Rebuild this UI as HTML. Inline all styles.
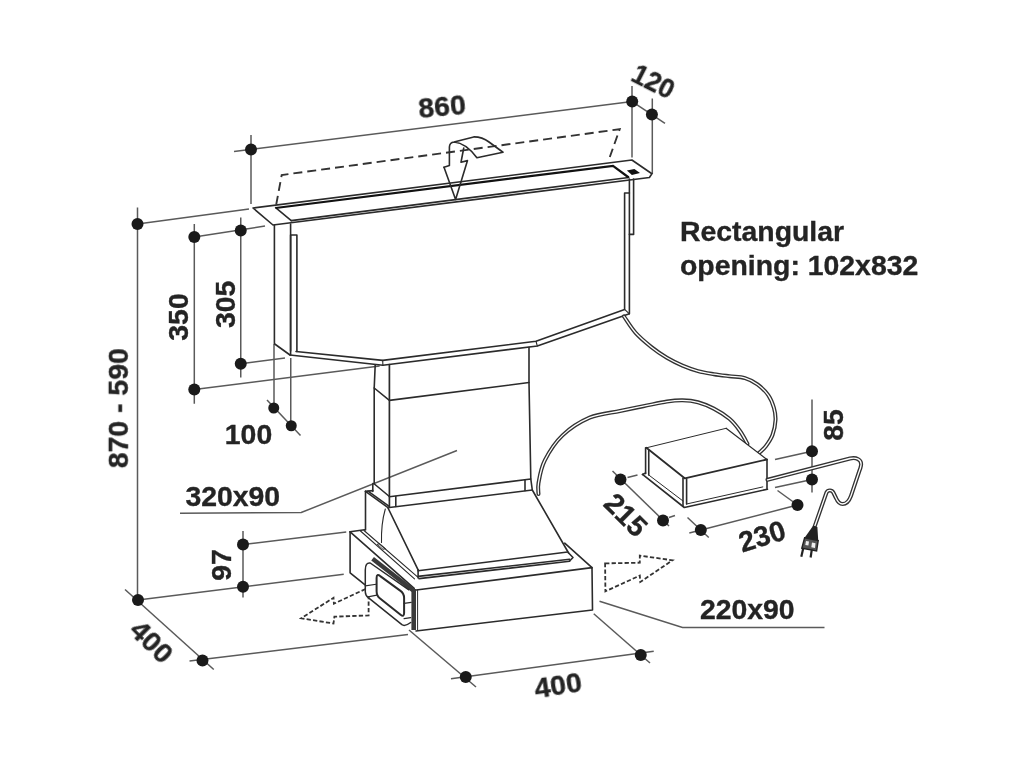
<!DOCTYPE html>
<html><head><meta charset="utf-8">
<style>
html,body{margin:0;padding:0;background:#fff;}
svg{display:block;}
text{font-family:"Liberation Sans",sans-serif;font-weight:bold;font-size:28.4px;fill:#222;stroke:#222;stroke-width:0.35;}
.d{stroke:#5a5a5a;stroke-width:1.5;fill:none;}
.m{stroke:#2b2b2b;stroke-width:1.6;fill:none;stroke-linejoin:round;stroke-linecap:round;}
.k{stroke:#111;stroke-width:2.2;fill:none;}
.dash{stroke:#333;stroke-width:1.9;fill:none;stroke-dasharray:9 5;}
.dash2{stroke:#333;stroke-width:1.8;fill:none;stroke-dasharray:4.3 2.2;stroke-linejoin:miter;}
.dot{fill:#1a1a1a;stroke:none;}
.co{stroke:#333;stroke-width:4;fill:none;stroke-linecap:round;stroke-linejoin:round;}
.ci{stroke:#fff;stroke-width:1.3;fill:none;stroke-linecap:round;stroke-linejoin:round;}
</style></head>
<body>
<svg width="1024" height="768" viewBox="0 0 1024 768">
<rect width="1024" height="768" fill="#fff"/>
<g>

<!-- DIMENSION LINES -->
<g class="d">
<!-- 860 -->
<path d="M234,151.6 L632.2,101.6"/>
<path d="M251,135 V204"/>
<path d="M632,86 V157.5"/>
<path d="M652.3,98.5 V174"/>
<path d="M632.2,101.6 L665,123.4"/>
<!-- 870-590 -->
<path d="M137.5,207.5 V600"/>
<path d="M137.5,224 L249,209"/>
<!-- 350 -->
<path d="M194.3,224 V403.75"/>
<path d="M194.3,237 L265,226"/>
<path d="M194.3,389.5 L379.6,366"/>
<!-- 305 -->
<path d="M240.75,217.5 V377.5"/>
<path d="M240.75,363.75 L285,358"/>
<!-- 100 -->
<path d="M274,344 V408"/>
<path d="M290.75,358 V425.75"/>
<path d="M267,400 L300.5,435.5"/>
<!-- 97 -->
<path d="M243,531 V597.5"/>
<path d="M243,544.5 L346.25,532"/>
<path d="M138,600 L343.75,574.25"/>
<!-- 400 left -->
<path d="M125,589.5 L213.75,669.5"/>
<path d="M189.5,661 L408,634.4"/>
<!-- 400 bottom -->
<path d="M451,678.8 L653.75,651.3"/>
<path d="M409,630 L476,687"/>
<path d="M593.75,613.75 L650,663"/>
<!-- leaders -->
<path d="M599.5,601.25 L682.5,627.5 H824.5"/>
<path d="M180,513.25 L301.25,512.5 L457,450.5"/>
<!-- 215 -->
<path d="M612.5,471 L669,526"/>
<path d="M627.5,477.5 L637.5,475"/>
<path d="M669,517.5 L675,515.5"/>
<!-- 230 -->
<path d="M689.3,533 L797.5,505"/>
<path d="M687.5,517.5 L708.75,537.5"/>
<path d="M777.5,490.5 L797.5,505"/>
<!-- 85 -->
<path d="M812,399.5 V492.5"/>
<path d="M775,459.5 L812,451.25"/>
<path d="M775,487.5 L812,479.5"/>
</g>

<!-- DOTS -->
<g class="dot">
<circle cx="251" cy="149.5" r="6"/><circle cx="632.2" cy="101.6" r="6"/><circle cx="651.9" cy="114.4" r="6"/>
<circle cx="137.5" cy="224" r="6"/><circle cx="138" cy="600" r="6"/>
<circle cx="194.3" cy="237" r="6"/><circle cx="194.3" cy="389.5" r="6"/>
<circle cx="240.75" cy="230.5" r="6"/><circle cx="240.75" cy="363.75" r="6"/>
<circle cx="273.75" cy="408" r="5.5"/><circle cx="291.25" cy="425.75" r="5.5"/>
<circle cx="243" cy="544.5" r="6"/><circle cx="243" cy="586.75" r="6"/>
<circle cx="202.5" cy="660.5" r="6"/>
<circle cx="465.75" cy="676.9" r="6"/><circle cx="640.75" cy="654.9" r="6"/>
<circle cx="620.5" cy="479.5" r="6"/><circle cx="663" cy="520.5" r="6"/>
<circle cx="700.8" cy="530" r="6"/><circle cx="797.5" cy="505" r="6"/>
<circle cx="812" cy="451.25" r="6"/><circle cx="812" cy="479.5" r="6"/>
</g>

<!-- DASHED OUTLINE -->
<path class="dash" d="M276.2,204.7 L281.7,175 L619.7,129.2 L609.8,157"/>

<!-- TOP PLATE -->
<g class="m">
<path d="M253,208 L631.9,160 L651.9,173.75 L649.4,177.5 L273,225 Z"/>
<path d="M291.25,220.6 L628.75,177.5"/>
<path d="M275.6,207.7 L291.25,220.6"/>
</g>
<path class="k" d="M275.6,208 L613,165.8 L628.75,177.5"/>
<path d="M626.9,170.6 L634.4,169 L640,173.1 L631.9,175 Z" fill="#111"/>

<!-- ARROW top -->
<g class="m">
<path d="M444,167.25 L449.4,165.6 V147 Q449.6,142.5 454,142 L473.75,136.9 Q482,136.8 489,142 L503,152.25 L476.9,157.75 Q466,143 454,142"/>
<path d="M463.75,148 L461,162.25 L467.5,160.6 L455.6,199.4 L444,167.25"/>
</g>

<!-- BODY -->
<g class="m">
<path d="M274.4,225 V343.75 L290,355"/>
<path d="M290.6,224 V355"/>
<path d="M290.6,351 V235 H296.9 V351.5"/>
<path d="M296,351.5 L382.7,360.4 L536,341.25 L624.6,309.4 V193 H629.4"/>
<path d="M290,355 L382.9,365.3 L537.3,346 L629.4,313.8 V179"/>
<path d="M382.7,360.4 L382.9,365.3 M536,341.25 L537.3,346 M624.6,309.4 L629.4,313.8" stroke-width="1.1"/>
<path d="M633.6,179 V234.4 H629.4"/>
</g>

<!-- COLUMN -->
<g class="m">
<path d="M375.2,365 L374.2,388 V483.5"/>
<path d="M374.2,388 L389.4,400.4 L529,382.5"/>
<path d="M389.4,364.6 V507.3" stroke-width="1.7"/>
<path d="M529,347.5 V382.5 L530.8,479"/>
<!-- collar -->
<path d="M389.4,496.7 L530.8,479 L532.3,490 L389.4,507.5"/>
<path d="M395.8,496.5 V506.5"/>
<path d="M525,480 V490.6"/>
<path d="M373.8,483.5 L389.4,496.5"/>
<path d="M372.8,483.5 V491.5"/>
<path d="M365.5,491.4 L372.8,490.6"/>
<path d="M365.5,491.4 L388,507.7"/>
<path d="M368,491.2 L389.2,506.3"/>
</g>

<!-- WEDGE -->
<g class="m">
<path d="M365.5,491.4 V530"/>
<path d="M388,508 L418.1,569.8"/>
<path d="M385.3,509 Q381,524 381.5,542.5" stroke-width="1.1"/>
<path d="M532.3,490 L568.6,553"/>
<path d="M418.1,570.8 L567.6,552"/>
<path d="M418.1,576.4 L569.6,559.3"/>
<path d="M419,578.6 L569.6,561.3"/>
<path d="M568.6,553 L573,557.5 L569.6,561"/>
<path d="M418.1,569.8 V578"/>
</g>

<!-- BASE -->
<g class="m">
<path d="M350.1,531.8 V572.8 L364.75,584.6"/>
<path d="M350.1,531.8 L364.5,529.8"/>
<path d="M350.1,531.8 L414.2,588.4"/>
<path d="M360.5,531 L414.5,578.8" stroke-width="1.1"/>
<path d="M364,530.5 L417.5,576.8" stroke-width="1.1"/>
<path d="M377.5,544.5 L383,549.3 L385.5,548.7 L380,544 Z" stroke-width="0.9"/>
<path d="M414.2,590.3 L592,567.6 L592.5,610 L416,631"/>
<path d="M564.7,543.2 L592,567.6"/>
</g>

<!-- DUCT -->
<g class="m">
<path d="M372.6,558.8 L413,590.3" stroke-width="4.4" stroke="#3a3a3a" stroke-linecap="butt"/>
<path d="M413.7,589 V630" stroke-width="4.6" stroke="#3a3a3a" stroke-linecap="butt"/>
<path d="M417.6,590 V630.6" stroke-width="1"/>
<path d="M365.3,570 Q365.3,562.3 370.2,563 L409,590 L410.7,622.5 Q405,626.5 401.9,624.7 L368.6,597.9 Q365.5,596 365.3,592 Z" fill="#fff" stroke="none"/>
<path d="M408.5,589.7 L370.2,563 Q365.3,562.3 365.3,570 V592 Q365.5,596 368.6,597.9 L401.9,624.7 Q405,626.8 410.7,622.5" stroke-width="1.5"/>
<path d="M376.6,578 Q376.6,573 380.2,576.1 L400.5,590.9 Q404.1,593.5 404.1,598 L404.1,613 Q404.1,617.5 400.6,614.7 L380.1,598.5 Q376.6,595.7 376.6,591.2 Z" stroke-width="2"/>
<path d="M365.3,585.9 L376.2,584.25" stroke-width="1.2"/>
<path d="M368,596.8 L376.8,595.2" stroke-width="1.2"/>
<path d="M404.1,603.4 L411.2,602.3" stroke-width="1.2"/>
<path d="M404.1,618.7 L410.7,617.6" stroke-width="1.2"/>
</g>

<!-- dashed arrow left -->
<path class="dash2" d="M365.5,589 L333.9,603.7 L333.5,597.8 L301.2,618.3 L333.5,623.5 L334.4,616.7 L368.6,615.4 V596"/>
<!-- dashed arrow right -->
<path class="dash2" d="M605.1,563.4 L639.8,562.7 L639.8,555.6 L672.5,560.3 L640.3,582 L639.8,575.6 L605.4,591.3 Z"/>

<!-- CABLES -->
<path class="co" d="M623.9,316.4 C625.9,319.1 631.0,327.7 635.6,332.8 C640.2,337.9 646.0,342.7 651.2,346.9 C656.5,351.1 661.7,354.7 666.9,357.8 C672.1,360.9 677.3,363.4 682.5,365.6 C687.7,367.8 692.8,369.7 698.0,371.1 C703.2,372.5 708.5,373.3 713.8,374.2 C719.0,375.1 724.2,375.6 729.4,376.2 C734.6,376.9 740.3,376.7 745.0,378.1 C749.7,379.5 753.6,381.5 757.5,384.4 C761.4,387.3 765.7,391.4 768.4,395.3 C771.1,399.2 772.7,403.7 773.9,407.8 C775.1,411.9 775.7,415.5 775.5,420.0 C775.3,424.5 774.1,430.7 772.5,435.0 C770.9,439.3 768.2,443.0 766.0,446.0 C763.8,449.0 760.2,451.8 759.0,453.0"/>
<path class="ci" d="M623.9,316.4 C625.9,319.1 631.0,327.7 635.6,332.8 C640.2,337.9 646.0,342.7 651.2,346.9 C656.5,351.1 661.7,354.7 666.9,357.8 C672.1,360.9 677.3,363.4 682.5,365.6 C687.7,367.8 692.8,369.7 698.0,371.1 C703.2,372.5 708.5,373.3 713.8,374.2 C719.0,375.1 724.2,375.6 729.4,376.2 C734.6,376.9 740.3,376.7 745.0,378.1 C749.7,379.5 753.6,381.5 757.5,384.4 C761.4,387.3 765.7,391.4 768.4,395.3 C771.1,399.2 772.7,403.7 773.9,407.8 C775.1,411.9 775.7,415.5 775.5,420.0 C775.3,424.5 774.1,430.7 772.5,435.0 C770.9,439.3 768.2,443.0 766.0,446.0 C763.8,449.0 760.2,451.8 759.0,453.0"/>
<path class="co" d="M538.5,494.0 C538.5,492.2 537.5,488.6 538.5,483.0 C539.5,477.4 540.8,468.3 544.8,460.4 C548.8,452.5 555.0,442.5 562.5,435.4 C570.0,428.3 580.0,421.8 589.6,417.7 C599.2,413.6 611.0,412.9 620.0,411.0 C629.0,409.1 635.6,407.8 643.4,406.2 C651.2,404.7 660.4,402.6 666.9,401.6 C673.4,400.6 677.3,400.2 682.5,400.3 C687.7,400.4 692.8,400.9 698.0,402.3 C703.2,403.7 708.5,405.9 713.8,408.6 C719.0,411.3 725.0,415.0 729.4,418.8 C733.8,422.5 737.0,426.8 740.0,431.0 C743.0,435.2 746.2,441.6 747.5,443.8"/>
<path class="ci" d="M538.5,494.0 C538.5,492.2 537.5,488.6 538.5,483.0 C539.5,477.4 540.8,468.3 544.8,460.4 C548.8,452.5 555.0,442.5 562.5,435.4 C570.0,428.3 580.0,421.8 589.6,417.7 C599.2,413.6 611.0,412.9 620.0,411.0 C629.0,409.1 635.6,407.8 643.4,406.2 C651.2,404.7 660.4,402.6 666.9,401.6 C673.4,400.6 677.3,400.2 682.5,400.3 C687.7,400.4 692.8,400.9 698.0,402.3 C703.2,403.7 708.5,405.9 713.8,408.6 C719.0,411.3 725.0,415.0 729.4,418.8 C733.8,422.5 737.0,426.8 740.0,431.0 C743.0,435.2 746.2,441.6 747.5,443.8"/>

<!-- BOX -->
<g class="m">
<path d="M646.4,447.8 L726.1,428.3 L766.9,459.5 V488.6 L684.7,508.5 L642.5,474.6 L645.6,473 Z" fill="#fff" stroke="none"/>
<path d="M646.4,447.8 L726.1,428.3" stroke-width="1"/>
<path d="M726.1,428.3 L766.9,459.5" stroke-width="1.2"/>
<path d="M646.4,447.8 L684.7,478.3 L766.9,459.5" stroke-width="1.8"/>
<path d="M645.6,447.8 V473.6"/>
<path d="M648.75,450 V475"/>
<path d="M648.75,475 L683,501" stroke-width="1"/>
<path d="M642.5,474.4 L684.3,507.5 L767.5,489.2"/>
<path d="M642.5,474.4 L645.6,473"/>
<path d="M683,478.3 V506"/>
<path d="M686.6,478.8 V504"/>
<path d="M686.6,504 L762.8,486.9" stroke-width="1"/>
<path d="M767,459.5 V488.6"/>
</g>

<!-- POWER CABLE -->
<path class="co" d="M767.5,479.8 L850,458.5 C856,457 862,459.5 861,465.5 C860.5,468 860,469.5 859.5,470.5 L851,495.8 C849.5,500 846.5,504 842.6,504 C839,504 837.5,501.5 836,498 L833.3,492.5 C832,490 828,489.5 826.5,492.5 L814.7,526.3"/>
<path class="ci" d="M767.5,479.8 L850,458.5 C856,457 862,459.5 861,465.5 C860.5,468 860,469.5 859.5,470.5 L851,495.8 C849.5,500 846.5,504 842.6,504 C839,504 837.5,501.5 836,498 L833.3,492.5 C832,490 828,489.5 826.5,492.5 L814.7,526.3"/>
<!-- plug -->
<g>
<path d="M813.3,525.5 L817.4,527 L818.2,540.5 L804.6,537.8 Z" fill="#222"/>
<path d="M804.6,537.8 L818.2,540.5 L816.6,551 L801.8,548.2 Z" fill="#555" stroke="#222" stroke-width="1.4"/>
<path d="M806,541 L809,541.6 L808.4,545.5 L805.3,545 Z" fill="#eee"/>
<path d="M812,542.5 L815.5,543.2 L815,548 L811.3,547.2 Z" fill="#eee"/>
<path d="M803.3,548 L801.3,556.8" stroke="#222" stroke-width="2.2"/>
<path d="M811.8,549.7 L810.6,557.5" stroke="#222" stroke-width="2.2"/>
</g>

<!-- TEXT -->
<g opacity="0.99">
<text x="680" y="240.8">Rectangular</text>
<text x="680" y="275">opening: 102x832</text>
<text transform="translate(442,106) rotate(-5)" text-anchor="middle" y="10">860</text>
<text transform="translate(653.7,81) rotate(27) scale(0.93,1)" text-anchor="middle" y="10">120</text>
<text transform="translate(178.4,317) rotate(-90)" text-anchor="middle" y="10">350</text>
<text transform="translate(225.25,304.4) rotate(-90)" text-anchor="middle" y="10">305</text>
<text transform="translate(117.85,408.2) rotate(-90)" text-anchor="middle" y="10">870 - 590</text>
<text x="248.5" y="443.5" text-anchor="middle">100</text>
<text x="232.75" y="506" text-anchor="middle">320x90</text>
<text transform="translate(220.5,565) rotate(-90)" text-anchor="middle" y="10">97</text>
<text transform="translate(152,641.5) rotate(45)" text-anchor="middle" y="10">400</text>
<text transform="translate(558,684.8) rotate(-8.5)" text-anchor="middle" y="10">400</text>
<text x="747.25" y="618.75" text-anchor="middle">220x90</text>
<text transform="translate(626,514.8) rotate(45)" text-anchor="middle" y="10">215</text>
<text transform="translate(762,536) rotate(-17)" text-anchor="middle" y="10">230</text>
<text transform="translate(833,425) rotate(-90)" text-anchor="middle" y="10">85</text>
</g>
</g>
</svg>
</body></html>
